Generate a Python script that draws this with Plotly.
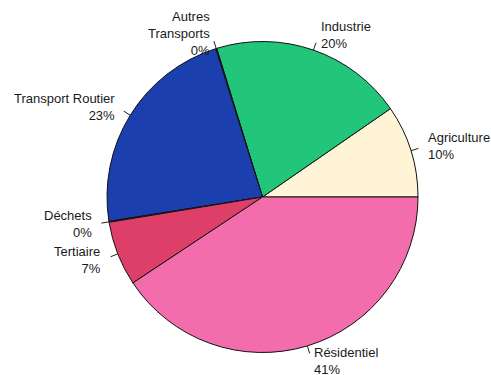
import math
import plotly.graph_objects as go

labels = ["Agriculture", "Industrie", "Autres\nTransports", "Transport Routier",
          "Déchets", "Tertiaire", "Résidentiel"]
values = [9.6, 20.1, 0.1, 22.6, 0.1, 6.7, 40.6]
colors = ["#FFF5D6", "#22C67A", "#1A4D3A", "#1B3FAE", "#7A1530", "#DE3F68", "#F36CAC"]

W, H = 491, 375
cx, cy, R = 262.5, 197.0, 155.5

total = sum(values)

fig = go.Figure()
fig.add_trace(go.Pie(
    labels=labels, values=values, sort=False, direction="counterclockwise",
    rotation=90 - 360 * values[0] / total, textinfo="none", hoverinfo="label+percent",
    marker=dict(colors=colors, line=dict(color="#111111", width=1)),
    domain=dict(x=[(cx - R) / W, (cx + R) / W], y=[(H - cy - R) / H, (H - cy + R) / H]),
    showlegend=False,
))

cum = 0.0
lx, ly = [], []
annotations = []
for lab, v in zip(labels, values):
    mid = 2 * math.pi * (cum + v / 2) / total
    cum += v
    c, s = math.cos(mid), math.sin(mid)
    lx += [c * 1.0, c * 1.05, None]
    ly += [s * 1.0, s * 1.05, None]
    pct = round(100 * v / total)
    txt = lab.replace("\n", "<br>") + "<br>" + f"{pct}%"
    annotations.append(dict(
        x=c * 1.1, y=s * 1.1, xref="x", yref="y", text=txt, showarrow=False,
        xanchor="left" if c > 0 else "right", yanchor="middle",
        align="left" if c > 0 else "right",
        font=dict(family="Liberation Sans, Arial, sans-serif", size=13, color="#1a1a1a"),
    ))

fig.add_trace(go.Scatter(x=lx, y=ly, mode="lines", line=dict(color="#222222", width=1),
                         hoverinfo="skip", showlegend=False))

fig.update_layout(
    width=W, height=H, margin=dict(l=0, r=0, t=0, b=0),
    paper_bgcolor="white", plot_bgcolor="rgba(0,0,0,0)",
    xaxis=dict(range=[-cx / R, (W - cx) / R], visible=False, fixedrange=True),
    yaxis=dict(range=[-(H - cy) / R, cy / R], visible=False, fixedrange=True),
    annotations=annotations, showlegend=False,
)
fig.write_html("out.html")
